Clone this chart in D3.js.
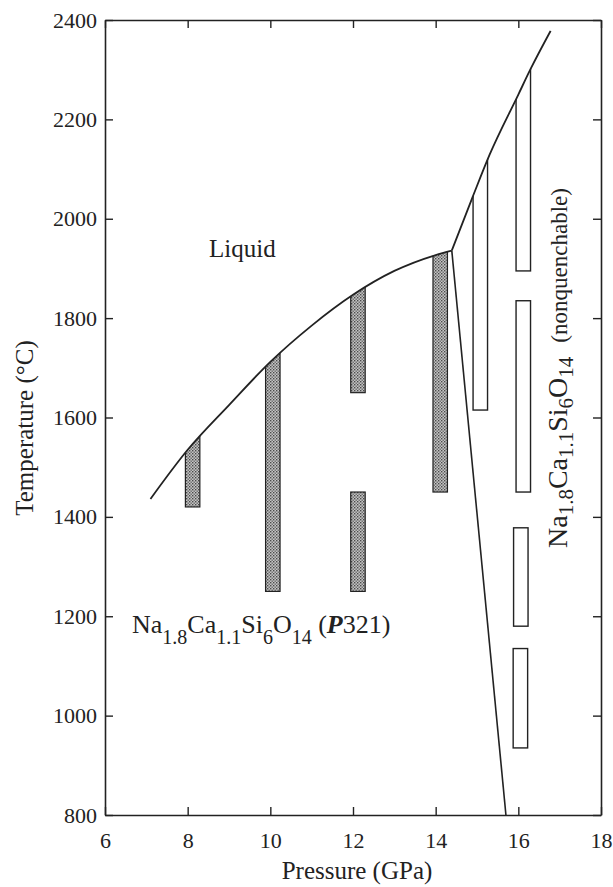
<!DOCTYPE html>
<html>
<head>
<meta charset="utf-8">
<script src="https://cdn.jsdelivr.net/npm/d3@7"></script>
<style>
  body { margin: 0; background: #fff; }
  svg text { font-family: "Liberation Serif", "Times New Roman", serif; fill: #222; }
</style>
</head>
<body>
<svg width="613" height="887"></svg>
<script>
// axis ticks
let pressureTicks = [6, 8, 10, 12, 14, 16, 18];
let tempTicks = [800, 1000, 1200, 1400, 1600, 1800, 2000, 2200, 2400];

// liquidus, low pressure branch (P321 phase) and high pressure branch
let liquidusLow = [[7.1, 1436], [8, 1535], [9, 1625], [10, 1712], [11, 1785], [12, 1847], [13, 1895], [14, 1927], [14.39, 1936]];
let liquidusHigh = [[14.39, 1936], [14.9, 2045], [15.3, 2128], [16, 2250], [16.3, 2302], [16.78, 2378]];
// phase boundary between the two solids
let boundary = [[14.39, 1936], [15.7, 800]];

// run brackets: pressure (bar center), T low, T high (tops are cut by the liquidus)
let quenchRuns = [[8.12, 1420, 1600], [10.06, 1250, 1780], [12.12, 1650, 1900], [12.12, 1250, 1450], [14.11, 1450, 1990]];
let nonquenchRuns = [[15.08, 1615, 2200], [16.12, 1895, 2350], [16.12, 1450, 1835], [16.06, 1180, 1378], [16.05, 935, 1135]];
let barWidth = 0.35; // GPa

let svg = d3.select("svg"),
    width = +svg.attr("width"),
    height = +svg.attr("height");

let x = d3.scaleLinear().domain([6, 18]).range([105, 601]);
let y = d3.scaleLinear().domain([800, 2400]).range([815, 20]);

let defs = svg.append("defs");

// stipple fill for the quenchable brackets
let pat = defs.append("pattern")
  .attr("id", "stipple")
  .attr("patternUnits", "userSpaceOnUse")
  .attr("width", 3).attr("height", 3);
pat.append("rect").attr("width", 3).attr("height", 3).attr("fill", "#c4c4c4");
pat.append("rect").attr("x", 0).attr("y", 0).attr("width", 1.4).attr("height", 1.4).attr("fill", "#4a4a4a");
pat.append("rect").attr("x", 1.5).attr("y", 1.5).attr("width", 1.4).attr("height", 1.4).attr("fill", "#666");

// area under the liquidus, used to cut the bracket tops
let under = d3.area().x(d => x(d[0])).y0(y(800)).y1(d => y(d[1])).curve(d3.curveMonotoneX);
let clip = defs.append("clipPath").attr("id", "belowLiquidus");
clip.append("path").attr("d", under(liquidusLow));
clip.append("path").attr("d", under(liquidusHigh));

let bars = svg.append("g").attr("clip-path", "url(#belowLiquidus)");

bars.selectAll(".quench")
  .data(quenchRuns)
  .enter().append("rect")
  .attr("class", "quench")
  .attr("x", d => x(d[0] - barWidth / 2))
  .attr("width", d => x(d[0] + barWidth / 2) - x(d[0] - barWidth / 2))
  .attr("y", d => y(d[2]))
  .attr("height", d => y(d[1]) - y(d[2]))
  .attr("fill", "url(#stipple)")
  .attr("stroke", "#222")
  .attr("stroke-width", 1.2);

bars.selectAll(".nonquench")
  .data(nonquenchRuns)
  .enter().append("rect")
  .attr("class", "nonquench")
  .attr("x", d => x(d[0] - barWidth / 2))
  .attr("width", d => x(d[0] + barWidth / 2) - x(d[0] - barWidth / 2))
  .attr("y", d => y(d[2]))
  .attr("height", d => y(d[1]) - y(d[2]))
  .attr("fill", "#fff")
  .attr("stroke", "#222")
  .attr("stroke-width", 1.4);

// phase lines
let line = d3.line().x(d => x(d[0])).y(d => y(d[1])).curve(d3.curveMonotoneX);
[liquidusLow, liquidusHigh].forEach(pts => {
  svg.append("path")
    .attr("d", line(pts))
    .attr("fill", "none")
    .attr("stroke", "#222")
    .attr("stroke-width", 1.8);
});
svg.append("path")
  .attr("d", d3.line().x(d => x(d[0])).y(d => y(d[1]))(boundary))
  .attr("fill", "none")
  .attr("stroke", "#222")
  .attr("stroke-width", 1.6);

// axes, ticks pointing inward on all four sides
let axes = svg.append("g").attr("class", "axes");
axes.append("g")
  .attr("transform", `translate(0,${y(800)})`)
  .call(d3.axisBottom(x).tickValues(pressureTicks).tickFormat(d3.format("d")).tickSizeInner(-8).tickSizeOuter(0).tickPadding(17));
axes.append("g")
  .attr("transform", `translate(0,${y(2400)})`)
  .call(d3.axisTop(x).tickValues(pressureTicks).tickSizeInner(-8).tickSizeOuter(0).tickFormat(""));
axes.append("g")
  .attr("transform", `translate(${x(6)},0)`)
  .call(d3.axisLeft(y).tickValues(tempTicks).tickFormat(d3.format("d")).tickSizeInner(-8).tickSizeOuter(0).tickPadding(8));
axes.append("g")
  .attr("transform", `translate(${x(18)},0)`)
  .call(d3.axisRight(y).tickValues(tempTicks).tickSizeInner(-8).tickSizeOuter(0).tickFormat(""));

axes.selectAll(".domain").attr("stroke", "#222").attr("stroke-width", 1.6);
axes.selectAll(".tick line").attr("stroke", "#222").attr("stroke-width", 1.4);
axes.selectAll(".tick text")
  .style("font-family", "'Liberation Serif', 'Times New Roman', serif")
  .style("font-size", "22px")
  .attr("fill", "#222");

// axis titles
svg.append("text")
  .attr("x", 357).attr("y", 879)
  .attr("text-anchor", "middle")
  .style("font-size", "25px")
  .text("Pressure (GPa)");

svg.append("text")
  .attr("transform", "translate(33,428) rotate(-90)")
  .attr("text-anchor", "middle")
  .style("font-size", "25px")
  .text("Temperature (°C)");

// region labels
svg.append("text")
  .attr("x", 209).attr("y", 257)
  .style("font-size", "25px")
  .text("Liquid");

function formula(sel, mainSize, subSize, shift) {
  let parts = [["Na", 0], ["1.8", 1], ["Ca", 0], ["1.1", 1], ["Si", 0], ["6", 1], ["O", 0], ["14", 1]];
  let prev = 0;
  parts.forEach(p => {
    let off = p[1] ? shift : 0;
    sel.append("tspan")
      .attr("dy", off - prev)
      .style("font-size", (p[1] ? subSize : mainSize) + "px")
      .text(p[0]);
    prev = off;
  });
  return -prev;
}

let p321 = svg.append("text").attr("x", 132).attr("y", 633);
let back = formula(p321, 26, 20, 11);
p321.append("tspan").attr("dy", back).style("font-size", "26px").text(" (");
p321.append("tspan").style("font-size", "26px").style("font-weight", "bold").style("font-style", "italic").text("P");
p321.append("tspan").style("font-size", "26px").text("321)");

let nq = svg.append("text").attr("transform", "translate(567,548) rotate(-90)");
back = formula(nq, 28, 21, 6);
nq.append("tspan").attr("dy", back).attr("dx", 14).style("font-size", "23px").text("(nonquenchable)");
</script>
</body>
</html>
